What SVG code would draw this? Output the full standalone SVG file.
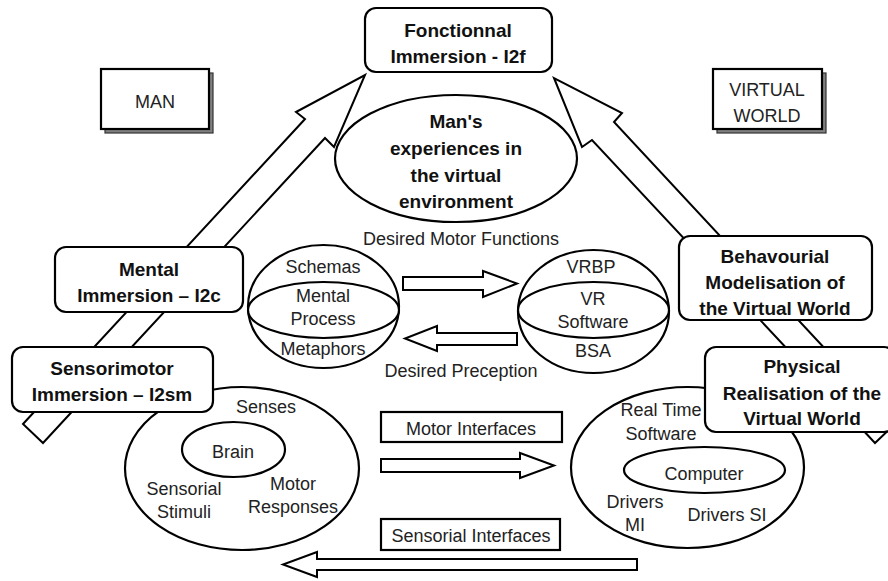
<svg xmlns="http://www.w3.org/2000/svg" width="888" height="581" viewBox="0 0 888 581">
<style>
.ln{fill:#fff;stroke:#000;stroke-width:2;stroke-linejoin:miter}
.box{fill:#fff;stroke:#000;stroke-width:2.2}
.sh{fill:#808080;stroke:#333;stroke-width:1.2}
.b{font-family:"Liberation Sans",Arial,sans-serif;font-weight:bold;font-size:19px;text-anchor:middle;fill:#111}
.r{font-family:"Liberation Sans",Arial,sans-serif;font-size:18px;text-anchor:middle;fill:#222}
</style>
<rect width="888" height="581" fill="#fff"/>
<g id="connectors">
  <polygon class="ln" points="23,424 305,119 296,112 365,75 334,147 325,138 43,443"/>
  <polygon class="ln" points="895,424 614,122 622,113 554,78 582,147 592,140 875,443"/>
  <polygon class="ln" points="403,277 483,277 483,271 517,283.5 483,297 483,290 403,290"/>
  <polygon class="ln" points="517,333 437,333 437,326 405,338.5 437,351 437,345 517,345"/>
  <polygon class="ln" points="381,459 520,459 520,453 554,465.5 520,478 520,472 381,472"/>
  <polygon class="ln" points="637,559 317,559 317,552 283,564.5 317,577 317,570 637,570"/>
</g>
<g id="man">
  <rect class="sh" x="105" y="73" width="108" height="60"/>
  <rect class="box" x="101" y="69" width="108" height="60" stroke-width="2"/>
  <text class="r" x="155" y="108">MAN</text>
</g>
<g id="virtual-world">
  <rect class="sh" x="717" y="73" width="109" height="60"/>
  <rect class="box" x="713" y="69" width="109" height="60" stroke-width="2"/>
  <text class="r" x="767" y="96">VIRTUAL</text>
  <text class="r" x="767" y="122">WORLD</text>
</g>
<g id="fonctionnal">
  <rect class="box" x="365" y="8" width="187" height="64" rx="11"/>
  <text class="b" x="458" y="37">Fonctionnal</text>
  <text class="b" x="458" y="63">Immersion - I2f</text>
</g>
<g id="experiences">
  <ellipse class="box" cx="456" cy="158.5" rx="121" ry="63.5"/>
  <text class="b" x="456" y="128">Man's</text>
  <text class="b" x="456" y="155">experiences in</text>
  <text class="b" x="456" y="182">the virtual</text>
  <text class="b" x="456" y="208">environment</text>
</g>
<g id="mental">
  <rect class="box" x="55" y="247" width="188" height="65" rx="11"/>
  <text class="b" x="149" y="276">Mental</text>
  <text class="b" x="149" y="302">Immersion – I2c</text>
</g>
<g id="behavourial">
  <rect class="box" x="679" y="236" width="193" height="84" rx="11"/>
  <text class="b" x="775" y="263">Behavourial</text>
  <text class="b" x="775" y="289">Modelisation of</text>
  <text class="b" x="775" y="315">the Virtual World</text>
</g>
<g id="labels">
  <text class="r" x="461" y="245">Desired Motor Functions</text>
  <text class="r" x="461" y="377">Desired Preception</text>
</g>
<g id="mental-process">
  <ellipse class="box" cx="323.5" cy="306.5" rx="75.5" ry="61.5"/>
  <ellipse class="box" cx="323.5" cy="310" rx="75.5" ry="28"/>
  <text class="r" x="323" y="273">Schemas</text>
  <text class="r" x="323" y="302">Mental</text>
  <text class="r" x="323" y="325">Process</text>
  <text class="r" x="323" y="355">Metaphors</text>
</g>
<g id="vr-software">
  <ellipse class="box" cx="593.5" cy="311.5" rx="75.5" ry="61.5"/>
  <ellipse class="box" cx="593.5" cy="310" rx="75.5" ry="28"/>
  <text class="r" x="591" y="273">VRBP</text>
  <text class="r" x="593" y="305">VR</text>
  <text class="r" x="593" y="328">Software</text>
  <text class="r" x="593" y="357">BSA</text>
</g>
<g id="motor-interfaces">
  <rect class="box" x="381" y="412" width="181" height="30" stroke-width="2"/>
  <text class="r" x="471" y="435">Motor Interfaces</text>
</g>
<g id="sensorial-interfaces">
  <rect class="box" x="381" y="519" width="179" height="31" stroke-width="2"/>
  <text class="r" x="471" y="542">Sensorial Interfaces</text>
</g>
<g id="brain">
  <ellipse class="box" cx="242" cy="468.5" rx="117" ry="81.5"/>
  <ellipse class="box" cx="233.5" cy="449.5" rx="51.5" ry="27.5"/>
  <text class="r" x="266" y="413">Senses</text>
  <text class="r" x="233" y="458">Brain</text>
  <text class="r" x="184" y="495">Sensorial</text>
  <text class="r" x="184" y="518">Stimuli</text>
  <text class="r" x="293" y="490">Motor</text>
  <text class="r" x="293" y="513">Responses</text>
</g>
<g id="sensorimotor">
  <rect class="box" x="12" y="347" width="201" height="65" rx="11"/>
  <text class="b" x="112" y="375">Sensorimotor</text>
  <text class="b" x="112" y="401">Immersion – I2sm</text>
</g>
<g id="computer">
  <ellipse class="box" cx="687.5" cy="467.5" rx="116.5" ry="80.5"/>
  <ellipse class="box" cx="704.5" cy="470" rx="80.5" ry="23"/>
  <text class="r" x="661" y="416">Real Time</text>
  <text class="r" x="661" y="440">Software</text>
  <text class="r" x="704" y="480">Computer</text>
  <text class="r" x="635" y="508">Drivers</text>
  <text class="r" x="635" y="531">MI</text>
  <text class="r" x="727" y="521">Drivers SI</text>
</g>
<g id="physical">
  <rect class="box" x="705" y="347" width="190" height="85" rx="11"/>
  <text class="b" x="802" y="373">Physical</text>
  <text class="b" x="802" y="400">Realisation of the</text>
  <text class="b" x="802" y="425">Virtual World</text>
</g>
</svg>
